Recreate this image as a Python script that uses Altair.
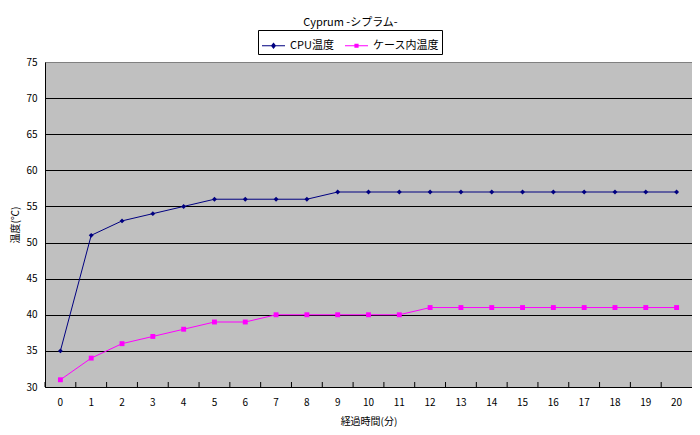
import altair as alt
import pandas as pd

minutes = list(range(21))
cpu_temp = [35, 51, 53, 54, 55, 56, 56, 56, 56, 57, 57, 57, 57, 57, 57, 57, 57, 57, 57, 57, 57]
case_temp = [31, 34, 36, 37, 38, 39, 39, 40, 40, 40, 40, 40, 41, 41, 41, 41, 41, 41, 41, 41, 41]
series_names = ["CPU温度", "ケース内温度"]
series_colors = ["#000080", "#FF00FF"]
marker_shapes = ["diamond", "square"]
legend_paths = [
    "M-1,0H1M0,-0.2L0.16,0L0,0.2L-0.16,0ZM0,-0.2V0.2M0,-0.09L0.07,0L0,0.09L-0.07,0Z",
    "M-1,0H1M-0.13,-0.13H0.13V0.13H-0.13ZM0,-0.13V0.13M-0.06,-0.06H0.06V0.06H-0.06Z",
]
y_ticks = [30, 35, 40, 45, 50, 55, 60, 65, 70, 75]

df = pd.DataFrame({
    "t": minutes * 2,
    "series": [series_names[0]] * len(minutes) + [series_names[1]] * len(minutes),
    "temp": cpu_temp + case_temp,
})
ticks_df = pd.DataFrame({"t": minutes})

FONT = "Noto Sans CJK JP"
W, H = 647, 325

xscale = alt.Scale(type="band", paddingInner=0, paddingOuter=0, domain=minutes)
xaxis = alt.Axis(title="経過時間(分)", labelAngle=0, tickSize=0, labelPadding=10,
                 domainColor="black", titlePadding=9, grid=False)
yscale = alt.Scale(domain=[30, 75], nice=False, zero=False)
yaxis = alt.Axis(values=y_ticks, title="温度(℃)", tickSize=0, labelPadding=8,
                 domainColor="black", titlePadding=5,
                 gridColor=alt.condition("datum.value == 75", alt.value("#808080"), alt.value("black")))

x_c = alt.X("t:O", bandPosition=0.5, scale=xscale, axis=xaxis)
y_c = alt.Y("temp:Q", scale=yscale, axis=yaxis)

series_layers = []
for name, col, shp in zip(series_names, series_colors, marker_shapes):
    base = alt.Chart(df).transform_filter(alt.datum.series == name)
    series_layers.append(base.mark_line(strokeWidth=1, color=col).encode(x=x_c, y=y_c))
    series_layers.append(
        base.mark_point(filled=True, size=24, opacity=1, strokeWidth=0, shape=shp, color=col)
        .encode(x=x_c, y=y_c)
    )

tick_rules = alt.Chart(ticks_df).mark_rule(color="black", strokeWidth=1).encode(
    x=alt.X("t:O", bandPosition=0, scale=xscale, axis=xaxis),
    y=alt.value(H - 5), y2=alt.value(H),
)
leg = alt.Legend(title=None)
legend_layer = alt.Chart(df).transform_filter("false").mark_point(filled=False, strokeWidth=1.2, opacity=1).encode(
    x=x_c, y=y_c,
    color=alt.Color("series:N", scale=alt.Scale(domain=series_names, range=series_colors), legend=leg),
    shape=alt.Shape("series:N", scale=alt.Scale(domain=series_names, range=legend_paths), legend=leg),
)

chart = alt.layer(*series_layers, tick_rules, legend_layer).properties(
    width=W, height=H,
    title=alt.Title("Cyprum -シプラム-", fontSize=11, fontWeight="normal", font=FONT,
                    anchor="middle", offset=2, dx=-18, color="black"),
    autosize=alt.AutoSizeParams(type="none"),
    padding={"left": 37, "top": 54, "right": 0, "bottom": 40},
).configure(
    background="white",
).configure_view(
    fill="#C0C0C0", stroke="#808080", strokeWidth=1,
).configure_axis(
    labelFont=FONT, titleFont=FONT, labelFontSize=10, titleFontSize=10,
    labelColor="black", titleColor="black", titleFontWeight="normal",
    gridWidth=1,
).configure_legend(
    orient="none", legendX=213, legendY=-32, direction="horizontal",
    strokeColor="black", fillColor="white", padding=3, cornerRadius=0,
    symbolSize=529, symbolStrokeWidth=1.2, labelFont=FONT, labelFontSize=11,
    labelColor="black", labelOffset=4, columnPadding=8, symbolOffset=0,
)

chart.save("out.html", embed_options={"renderer": "svg", "actions": False})
